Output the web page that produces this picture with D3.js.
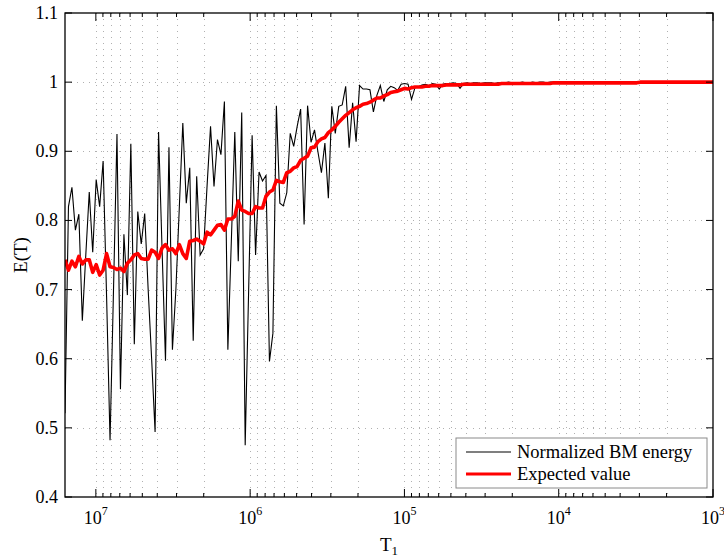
<!DOCTYPE html>
<html>
<head>
<meta charset="utf-8">
<script src="https://cdn.jsdelivr.net/npm/d3@7/dist/d3.min.js"></script>
<style>
  html, body { margin: 0; padding: 0; background: #fff; }
  svg { display: block; }
  text { font-family: "Liberation Serif", "Times New Roman", serif; fill: #000; }
</style>
</head>
<body>
<svg id="chart" width="724" height="559"></svg>
<script>
// ---- Data ----
// Sampling grid of T_1: log-spaced from about 1.6e7 down to 1e3
const T_START_EXP = 7.2;
const T_END_EXP = 3.0;
const N_POINTS = 188;

// Normalized BM energy (black, noisy)
const energy = [
  0.521,0.820,0.848,0.786,0.809,0.655,0.750,0.841,0.754,0.859,
  0.820,0.886,0.690,0.482,0.700,0.925,0.556,0.780,0.692,0.911,
  0.621,0.813,0.766,0.810,0.700,0.600,0.494,0.928,0.760,0.597,
  0.906,0.613,0.700,0.820,0.941,0.825,0.876,0.626,0.864,0.750,
  0.759,0.850,0.936,0.849,0.917,0.895,0.972,0.613,0.770,0.928,
  0.741,0.956,0.475,0.700,0.923,0.750,0.870,0.857,0.865,0.596,
  0.637,0.966,0.825,0.821,0.840,0.926,0.907,0.936,0.961,0.794,
  0.966,0.913,0.931,0.899,0.869,0.912,0.832,0.965,0.926,0.965,
  0.967,0.994,0.905,0.970,0.914,0.995,0.990,0.990,0.989,0.957,
  0.981,0.995,0.972,0.989,0.994,0.992,0.988,0.997,0.998,0.997,
  0.975,0.992,0.993,0.996,0.997,0.995,0.998,0.997,0.990,0.997,
  0.998,0.998,0.999,0.998,0.991,0.998,0.999,0.998,0.999,0.999,
  0.998,0.999,0.999,0.999,0.998,0.999,0.999,0.999,1.000,0.999,
  0.999,0.999,1.000,0.999,0.999,1.000,0.999,1.000,1.000,0.999,
  1.000,1.000,0.999,1.000,1.000,1.000,0.999,1.000,1.000,1.000,
  1.000,1.000,1.000,0.999,1.000,1.000,1.000,1.000,1.000,1.000,
  1.000,1.000,1.000,1.000,1.000,1.000,1.000,1.000,1.000,1.000,
  1.000,1.000,1.000,1.000,1.000,1.000,1.000,1.000,1.000,1.000,
  1.000,1.000,1.000,1.000,1.000,1.000,1.000,1.000
];

// Expected value (red, smooth)
const expected = [
  0.743,0.728,0.741,0.733,0.748,0.737,0.743,0.743,0.725,0.736,
  0.721,0.728,0.752,0.733,0.732,0.729,0.731,0.726,0.738,0.743,
  0.750,0.752,0.745,0.744,0.744,0.757,0.754,0.745,0.760,0.765,
  0.757,0.759,0.752,0.765,0.752,0.745,0.770,0.771,0.773,0.770,
  0.766,0.783,0.779,0.786,0.793,0.794,0.786,0.802,0.802,0.806,
  0.828,0.815,0.813,0.810,0.810,0.820,0.818,0.818,0.835,0.841,
  0.844,0.858,0.856,0.855,0.869,0.871,0.876,0.878,0.887,0.890,
  0.893,0.905,0.906,0.914,0.918,0.920,0.927,0.931,0.936,0.942,
  0.947,0.952,0.956,0.960,0.963,0.965,0.968,0.969,0.971,0.974,
  0.977,0.977,0.980,0.982,0.985,0.986,0.987,0.989,0.991,0.990,
  0.992,0.993,0.993,0.993,0.994,0.994,0.995,0.995,0.995,0.995,
  0.996,0.996,0.996,0.996,0.996,0.997,0.997,0.997,0.997,0.997,
  0.997,0.997,0.997,0.997,0.997,0.997,0.998,0.998,0.998,0.998,
  0.998,0.998,0.998,0.998,0.998,0.998,0.998,0.998,0.998,0.998,
  0.998,0.999,0.999,0.999,0.999,0.999,0.999,0.999,0.999,0.999,
  0.999,0.999,0.999,0.999,0.999,0.999,0.999,0.999,0.999,0.999,
  0.999,0.999,0.999,0.999,0.999,0.999,1.000,1.000,1.000,1.000,
  1.000,1.000,1.000,1.000,1.000,1.000,1.000,1.000,1.000,1.000,
  1.000,1.000,1.000,1.000,1.000,1.000,1.000,1.000
];

const xMajorTicks = [1e7, 1e6, 1e5, 1e4, 1e3];
const xMajorExps = ["7", "6", "5", "4", "3"];
const yTicks = [0.4, 0.5, 0.6, 0.7, 0.8, 0.9, 1.0, 1.1];
const yTickLabels = ["0.4", "0.5", "0.6", "0.7", "0.8", "0.9", "1", "1.1"];
const seriesNames = ["Normalized BM energy", "Expected value"];
const seriesColors = ["#000000", "#ff0000"];

// ---- Layout ----
const W = 724, H = 559;
const margin = { left: 65, top: 13, right: 11, bottom: 62 };
const iw = W - margin.left - margin.right;
const ih = H - margin.top - margin.bottom;

const svg = d3.select("#chart");
const g = svg.append("g").attr("transform", `translate(${margin.left},${margin.top})`);

const T = d3.range(N_POINTS).map(i =>
  Math.pow(10, T_START_EXP - i * (T_START_EXP - T_END_EXP) / (N_POINTS - 1)));

const x = d3.scaleLog()
  .domain([Math.pow(10, T_START_EXP), Math.pow(10, T_END_EXP)])
  .range([0, iw]);
const y = d3.scaleLinear().domain([0.4, 1.1]).range([ih, 0]);

// minor ticks
const minorTicks = [];
for (let k = 3; k <= 7; k++) {
  for (let m = 2; m <= 9; m++) {
    const v = m * Math.pow(10, k);
    if (v <= Math.pow(10, T_START_EXP) && v >= Math.pow(10, T_END_EXP)) minorTicks.push(v);
  }
}
const allXTicks = xMajorTicks.concat(minorTicks);

// ---- Grid ----
const grid = g.append("g").attr("class", "grid");
grid.selectAll("line.vx").data(allXTicks.filter(v => x(v) > 0.5 && x(v) < iw - 0.5))
  .join("line")
  .attr("x1", d => Math.round(x(d)) + 0.5).attr("x2", d => Math.round(x(d)) + 0.5)
  .attr("y1", 0).attr("y2", ih)
  .attr("stroke", "#b0b0b0").attr("stroke-width", 1)
  .attr("stroke-dasharray", "1,5");
grid.selectAll("line.hy").data(yTicks.filter(v => v > 0.4 && v < 1.1))
  .join("line")
  .attr("x1", 0).attr("x2", iw)
  .attr("y1", d => Math.round(y(d)) + 0.5).attr("y2", d => Math.round(y(d)) + 0.5)
  .attr("stroke", "#b0b0b0").attr("stroke-width", 1)
  .attr("stroke-dasharray", "1,5");

// ---- Lines ----
svg.append("defs").append("clipPath").attr("id", "plotclip")
  .append("rect").attr("x", 0).attr("y", 0).attr("width", iw).attr("height", ih);

const line = d3.line().x(d => x(d[0])).y(d => y(d[1]));
const plot = g.append("g").attr("clip-path", "url(#plotclip)");

plot.append("path")
  .datum(T.map((t, i) => [t, energy[i]]))
  .attr("d", line)
  .attr("fill", "none")
  .attr("stroke", seriesColors[0])
  .attr("stroke-width", 1.1)
  .attr("stroke-linejoin", "miter");

plot.append("path")
  .datum(T.map((t, i) => [t, expected[i]]))
  .attr("d", line)
  .attr("fill", "none")
  .attr("stroke", seriesColors[1])
  .attr("stroke-width", 3.6)
  .attr("stroke-linejoin", "round");

// ---- Frame ----
g.append("rect")
  .attr("x", 0).attr("y", 0).attr("width", iw).attr("height", ih)
  .attr("fill", "none").attr("stroke", "#000").attr("stroke-width", 1.3);

// ---- Ticks (inward, all sides) ----
const ticks = g.append("g").attr("stroke", "#000").attr("stroke-width", 1);
const xt = allXTicks.map(v => ({ v, major: xMajorTicks.includes(v) }));
ticks.selectAll("line.bx").data(xt).join("line")
  .attr("x1", d => x(d.v)).attr("x2", d => x(d.v))
  .attr("y1", ih).attr("y2", d => ih - (d.major ? 8 : 4));
ticks.selectAll("line.tx").data(xt).join("line")
  .attr("x1", d => x(d.v)).attr("x2", d => x(d.v))
  .attr("y1", 0).attr("y2", d => (d.major ? 8 : 4));
ticks.selectAll("line.ly").data(yTicks).join("line")
  .attr("x1", 0).attr("x2", 7)
  .attr("y1", d => y(d)).attr("y2", d => y(d));
ticks.selectAll("line.ry").data(yTicks).join("line")
  .attr("x1", iw).attr("x2", iw - 7)
  .attr("y1", d => y(d)).attr("y2", d => y(d));

// ---- Tick labels ----
g.selectAll("text.yl").data(yTicks).join("text")
  .attr("x", -7).attr("y", d => y(d))
  .attr("text-anchor", "end").attr("dominant-baseline", "central")
  .attr("font-size", 18)
  .text((d, i) => yTickLabels[i]);

const xl = g.selectAll("text.xl").data(xMajorTicks).join("text")
  .attr("x", d => x(d)).attr("y", ih + 27)
  .attr("text-anchor", "middle")
  .attr("font-size", 18);
xl.append("tspan").text("10");
xl.append("tspan").attr("font-size", 12).attr("dy", -9).text((d, i) => xMajorExps[i]);

// ---- Axis labels ----
const xlab = svg.append("text")
  .attr("x", margin.left + iw / 2).attr("y", 551)
  .attr("text-anchor", "middle").attr("font-size", 19);
xlab.append("tspan").text("T");
xlab.append("tspan").attr("font-size", 13).attr("dy", 4).text("1");

svg.append("text")
  .attr("transform", `translate(27,${margin.top + ih / 2}) rotate(-90)`)
  .attr("text-anchor", "middle").attr("font-size", 19)
  .text("E(T)");

// ---- Legend ----
const lg = svg.append("g").attr("transform", "translate(456,438)");
lg.append("rect").attr("x", 0).attr("y", 0).attr("width", 251).attr("height", 50)
  .attr("fill", "#fff").attr("stroke", "#8a8a8a").attr("stroke-width", 1);
seriesNames.forEach((name, i) => {
  const yy = 14 + i * 22;
  lg.append("line").attr("x1", 10).attr("x2", 55).attr("y1", yy).attr("y2", yy)
    .attr("stroke", seriesColors[i]).attr("stroke-width", i === 0 ? 1.1 : 3);
  lg.append("text").attr("x", 61).attr("y", yy + 6)
    .attr("font-size", 18.5).text(name);
});
</script>
</body>
</html>
